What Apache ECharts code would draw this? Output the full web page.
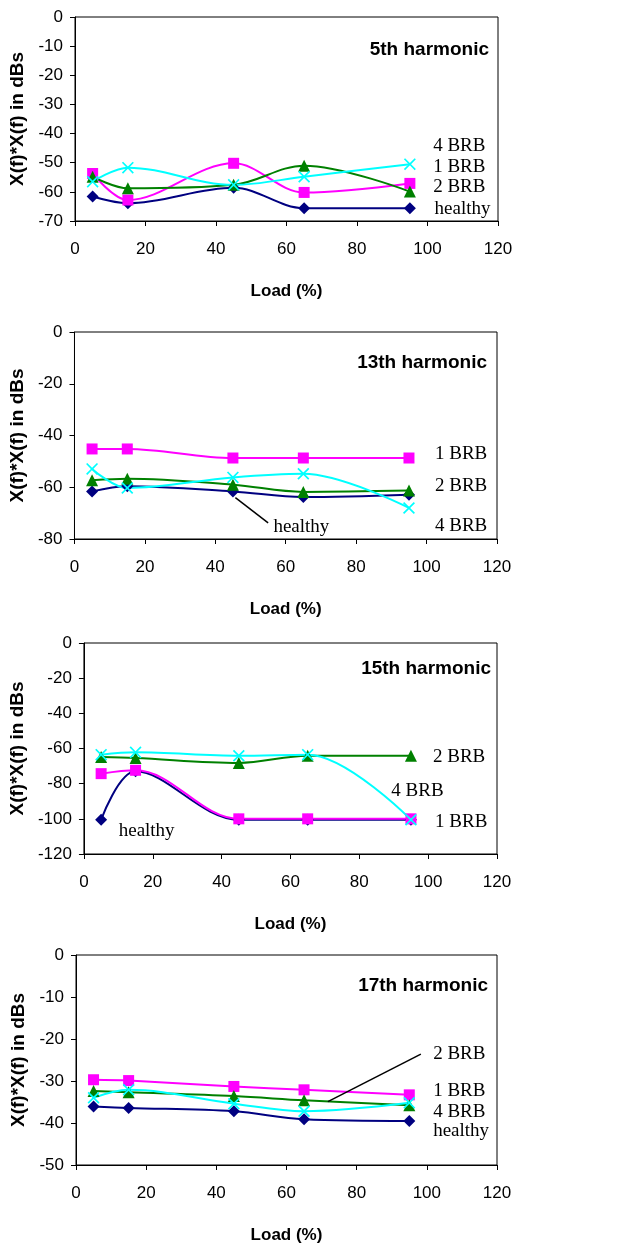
<!DOCTYPE html>
<html>
<head>
<meta charset="utf-8">
<script src="https://cdn.jsdelivr.net/npm/echarts@6/dist/echarts.min.js"></script>
<style>
  html, body { margin: 0; padding: 0; background: #fff; }
  #chartBox { width: 634px; height: 1245px; }
</style>
</head>
<body>
<div id="chartBox"></div>
<script>
// load points (x axis) and tick values
const load = [5, 15, 45, 65, 95];
const xTicks = [0, 20, 40, 60, 80, 100, 120];

// 5th harmonic
const h5Healthy = [-61.6, -63.9, -58.6, -65.6, -65.6];
const h5Brb1 = [-53.7, -62.8, -50.2, -60.2, -57.1];
const h5Brb2 = [-54.8, -58.8, -57.6, -51.0, -59.9];
const h5Brb4 = [-56.5, -51.7, -57.6, -54.8, -50.5];

// 13th harmonic
const h13Healthy = [-61.6, -59.6, -61.6, -63.8, -62.9];
const h13Brb1 = [-45.2, -45.2, -48.7, -48.7, -48.7];
const h13Brb2 = [-57.3, -56.7, -59.0, -61.8, -61.3];
const h13Brb4 = [-52.9, -60.3, -56.2, -54.8, -68.0];

// 15th harmonic
const h15Healthy = [-100.5, -73.0, -100.5, -100.5, -100.5];
const h15Brb1 = [-74.3, -72.4, -100.0, -100.0, -100.0];
const h15Brb2 = [-64.8, -65.4, -68.2, -64.1, -64.1];
const h15Brb4 = [-63.5, -62.2, -64.1, -63.5, -100.5];

// 17th harmonic
const h17Healthy = [-36.1, -36.4, -37.2, -39.1, -39.5];
const h17Brb1 = [-29.7, -29.9, -31.3, -32.1, -33.3];
const h17Brb2 = [-32.4, -32.7, -33.6, -34.6, -35.8];
const h17Brb4 = [-34.0, -32.1, -35.4, -37.2, -35.2];

const xMark = 'path://M0,1L1,0L5,4L9,0L10,1L6,5L10,9L9,10L5,6L1,10L0,9L4,5Z';
const styles = {
  healthy: { color: '#000080', symbol: 'diamond', size: 12 },
  brb1: { color: '#FF00FF', symbol: 'rect', size: 11 },
  brb2: { color: '#008000', symbol: 'triangle', size: 12 },
  brb4: { color: '#00FFFF', symbol: xMark, size: 12 }
};

const panels = [
  {
    title: '5th harmonic', min: -70, interval: 10,
    grid: { left: 75, top: 17, width: 423, height: 204 }, titleRight: 145, titleTop: 40,
    data: { healthy: h5Healthy, brb1: h5Brb1, brb2: h5Brb2, brb4: h5Brb4 },
    notes: [['4 BRB', 101.6, -44.3], ['1 BRB', 101.6, -51.5], ['2 BRB', 101.6, -58.3], ['healthy', 102, -65.9]]
  },
  {
    title: '13th harmonic', min: -80, interval: 20,
    grid: { left: 74, top: 332, width: 423, height: 207 }, titleRight: 147, titleTop: 353,
    data: { healthy: h13Healthy, brb1: h13Brb1, brb2: h13Brb2, brb4: h13Brb4 },
    notes: [['1 BRB', 102.4, -47.1], ['2 BRB', 102.4, -59.5], ['4 BRB', 102.4, -75], ['healthy', 56.5, -75.4]],
    leader: [[45.7, -64], [55, -73.8]]
  },
  {
    title: '15th harmonic', min: -120, interval: 20,
    grid: { left: 83, top: 643, width: 414, height: 211 }, titleRight: 143, titleTop: 659,
    data: { healthy: h15Healthy, brb1: h15Brb1, brb2: h15Brb2, brb4: h15Brb4 },
    notes: [['2 BRB', 101.4, -64.8], ['4 BRB', 89.3, -84.2], ['1 BRB', 102, -101.8], ['healthy', 10.1, -106.9]]
  },
  {
    title: '17th harmonic', min: -50, interval: 10,
    grid: { left: 76, top: 955, width: 421, height: 212 }, titleRight: 146, titleTop: 976,
    data: { healthy: h17Healthy, brb1: h17Brb1, brb2: h17Brb2, brb4: h17Brb4 },
    notes: [['2 BRB', 101.8, -23.6], ['1 BRB', 101.8, -32.3], ['4 BRB', 101.8, -37.3], ['healthy', 101.8, -42]],
    leader: [[98.3, -23.6], [71.8, -34.9]]
  }
];

const tickFont = { fontFamily: 'Liberation Sans, Arial, sans-serif', fontSize: 17, color: '#000' };
const axisLine = { show: true, onZero: false, lineStyle: { color: '#000', width: 1 } };
const axisTick = { show: true, inside: false, length: 5, lineStyle: { color: '#000' } };

const option = {
  animation: false,
  backgroundColor: '#fff',
  title: [],
  grid: [],
  xAxis: [],
  yAxis: [],
  series: []
};

panels.forEach((p, i) => {
  option.title.push({
    text: p.title, right: p.titleRight, top: p.titleTop, padding: 0,
    textStyle: { fontFamily: 'Liberation Sans, Arial, sans-serif', fontSize: 19, fontWeight: 'bold', color: '#000' }
  });
  option.grid.push(Object.assign({ show: true, borderColor: '#000', borderWidth: 1, backgroundColor: '#fff' }, p.grid));
  option.xAxis.push({
    type: 'value', gridIndex: i, position: 'bottom',
    min: xTicks[0], max: xTicks[xTicks.length - 1], interval: 20,
    name: 'Load (%)', nameLocation: 'middle', nameGap: 62,
    nameTextStyle: { fontFamily: 'Liberation Sans, Arial, sans-serif', fontSize: 17, fontWeight: 'bold', color: '#000' },
    axisLine: axisLine,
    axisTick: axisTick,
    axisLabel: Object.assign({ margin: 20 }, tickFont),
    splitLine: { show: false }
  });
  option.yAxis.push({
    type: 'value', gridIndex: i, position: 'left', min: p.min, max: 0, interval: p.interval,
    name: 'X(f)*X(f) in dBs', nameLocation: 'middle', nameGap: i === 2 ? 50 : 42, nameRotate: 90,
    nameTextStyle: { fontFamily: 'Liberation Sans, Arial, sans-serif', fontSize: 19, fontWeight: 'bold', color: '#000' },
    axisLine: axisLine,
    axisTick: axisTick,
    axisLabel: Object.assign({ margin: 12 }, tickFont),
    splitLine: { show: false }
  });
  ['healthy', 'brb1', 'brb2', 'brb4'].forEach(key => {
    const s = styles[key];
    option.series.push({
      type: 'line', xAxisIndex: i, yAxisIndex: i,
      smooth: 0.35,
      data: load.map((x, k) => [x, p.data[key][k]]),
      symbol: s.symbol, symbolSize: s.size,
      lineStyle: { color: s.color, width: 2 },
      itemStyle: { color: s.color, borderWidth: 0 }
    });
  });
});

const myChart = echarts.init(document.getElementById('chartBox'));
myChart.setOption(option);

// text notes and leader lines, placed through each grid's scales
const graphic = [];
panels.forEach((p, i) => {
  p.notes.forEach(n => {
    const pt = myChart.convertToPixel({ gridIndex: i }, [n[1], n[2]]);
    graphic.push({
      type: 'text', x: pt[0], y: pt[1], z: 100,
      style: { text: n[0], fill: '#000', font: '19px "Liberation Serif", "Times New Roman", serif', align: 'left', verticalAlign: 'middle' }
    });
  });
  if (p.leader) {
    const a = myChart.convertToPixel({ gridIndex: i }, p.leader[0]);
    const b = myChart.convertToPixel({ gridIndex: i }, p.leader[1]);
    graphic.push({
      type: 'line', z: 100,
      shape: { x1: a[0], y1: a[1], x2: b[0], y2: b[1] },
      style: { stroke: '#000', lineWidth: 1.5 }
    });
  }
});
myChart.setOption({ graphic: graphic });
</script>
</body>
</html>
